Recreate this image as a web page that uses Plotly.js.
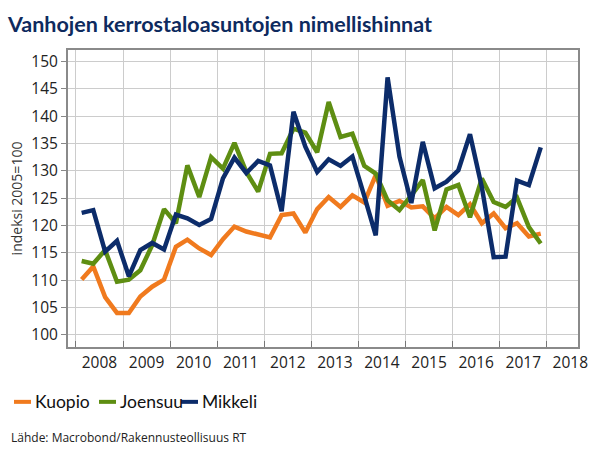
<!DOCTYPE html>
<html>
<head>
<meta charset="utf-8">
<script src="https://cdn.plot.ly/plotly-3.0.1.min.js"></script>
<style>html,body{margin:0;padding:0;background:#fff;}#chart{width:600px;height:457px;}</style>
</head>
<body>
<div id="chart"></div>
<script>
// Quarters 2008Q1 .. 2017Q4
const quarters = [
  "2008Q1","2008Q2","2008Q3","2008Q4","2009Q1","2009Q2","2009Q3","2009Q4",
  "2010Q1","2010Q2","2010Q3","2010Q4","2011Q1","2011Q2","2011Q3","2011Q4",
  "2012Q1","2012Q2","2012Q3","2012Q4","2013Q1","2013Q2","2013Q3","2013Q4",
  "2014Q1","2014Q2","2014Q3","2014Q4","2015Q1","2015Q2","2015Q3","2015Q4",
  "2016Q1","2016Q2","2016Q3","2016Q4","2017Q1","2017Q2","2017Q3","2017Q4"
];
const kuopio = [110.1,112.5,106.9,104.0,104.0,107.0,108.8,110.1,116.1,117.4,115.8,114.6,117.5,119.8,118.9,118.4,117.8,121.9,122.2,118.7,
                123.0,125.2,123.4,125.5,124.2,129.2,123.6,124.5,123.3,123.5,121.3,123.4,121.9,123.9,120.4,122.2,119.5,120.4,118.0,118.5];
const joensuu = [113.5,113.0,115.5,109.7,110.1,111.8,116.4,123.0,120.4,131.0,125.2,132.5,130.4,135.1,129.8,126.2,133.1,133.2,137.7,137.0,
                 133.4,142.6,136.2,136.8,130.9,129.5,124.6,122.8,125.5,128.3,119.1,126.6,127.4,121.5,128.6,124.3,123.4,125.1,119.7,116.7];
const mikkeli = [122.3,122.8,115.2,117.2,110.7,115.5,116.8,115.6,122.0,121.3,120.1,121.2,128.6,132.4,129.6,131.8,131.0,122.6,140.8,134.4,
                 129.8,132.1,130.9,132.6,125.4,118.2,147.1,132.6,124.1,135.3,126.8,128.0,130.1,136.7,127.0,114.2,114.3,128.2,127.4,134.3];
const seriesNames = ["Kuopio","Joensuu","Mikkeli"];
const seriesColors = ["#F07A1E","#5E8E12","#0C2C6A"];
const yTicks = [100,105,110,115,120,125,130,135,140,145,150];

// quarter label -> mid-quarter date
function qDate(q){
  const y = q.slice(0,4), n = +q.slice(5);
  const m = ["02","05","08","11"][n-1];
  return y + "-" + m + "-15";
}
const xDates = quarters.map(qDate);
const values = [kuopio, joensuu, mikkeli];

const font = "Open Sans, Noto Sans, sans-serif";
const font2 = "Lato, Open Sans, sans-serif";
const traces = values.map((v,i)=>({
  x: xDates, y: v, type: "scatter", mode: "lines", name: seriesNames[i],
  line: {color: seriesColors[i], width: 4.5}, showlegend: false, hoverinfo: "skip"
}));

// manual legend
const legendX = [14, 99, 181];
const shapes = [];
const annotations = [];
const legY = -(401.5-346.7)/296.7;
seriesNames.forEach((n,i)=>{
  shapes.push({type:"line", xref:"paper", yref:"paper",
    x0:(legendX[i]-68)/510, x1:(legendX[i]+17-68)/510,
    y0:legY, y1:legY,
    line:{color:seriesColors[i], width:4}});
  annotations.push({xref:"paper", yref:"paper", x:(legendX[i]+19-68)/510, y:legY,
    xanchor:"left", yanchor:"middle", showarrow:false, text:n,
    font:{family:font2, size:17.5, color:"#111"}});
});
annotations.push({xref:"paper", yref:"paper", x:(9-68)/510, y:-(437-346.7)/296.7,
  xanchor:"left", yanchor:"middle", showarrow:false,
  text:"Lähde: Macrobond/Rakennusteollisuus RT",
  font:{family:font, size:12, color:"#222"}});

const layout = {
  width: 600, height: 457,
  margin: {l:68, r:22, t:50, b:110, pad:0},
  paper_bgcolor: "#fff", plot_bgcolor: "#fff",
  title: {text:"Vanhojen kerrostaloasuntojen nimellishinnat", xref:"container", yref:"container",
    x: 8/600, xanchor:"left", y: 1-24/457, yanchor:"middle",
    font:{family:font2, size:21.5, weight:700, color:"#0E2A5E"}},
  xaxis: {
    type:"date", range:["2007-11-01","2018-08-31"],
    tick0:"2008-01-01", dtick:"M12", ticklabelmode:"period", tickformat:"%Y",
    ticks:"inside", ticklen:6, tickcolor:"#777",
    showgrid:true, gridcolor:"#cccccc", gridwidth:1,
    showline:true, linecolor:"#8a8a8a", linewidth:2, mirror:true,
    tickfont:{family:font, size:15.5, color:"#222"}, zeroline:false, fixedrange:true
  },
  yaxis: {
    range:[97.77, 152.1], tickvals:yTicks, ticktext:yTicks.map(String),
    ticks:"outside", ticklen:5, tickcolor:"#888",
    showgrid:true, gridcolor:"#cccccc", gridwidth:1,
    showline:true, linecolor:"#8a8a8a", linewidth:2, mirror:true,
    tickfont:{family:font, size:15.5, color:"#222"}, zeroline:false,
    title:{text:"indeksi 2005=100", standoff:5, font:{family:font, size:14, color:"#333"}}
  },
  shapes: shapes,
  annotations: annotations,
  showlegend: false
};
Plotly.newPlot("chart", traces, layout, {staticPlot:true, displayModeBar:false});
</script>
</body>
</html>
